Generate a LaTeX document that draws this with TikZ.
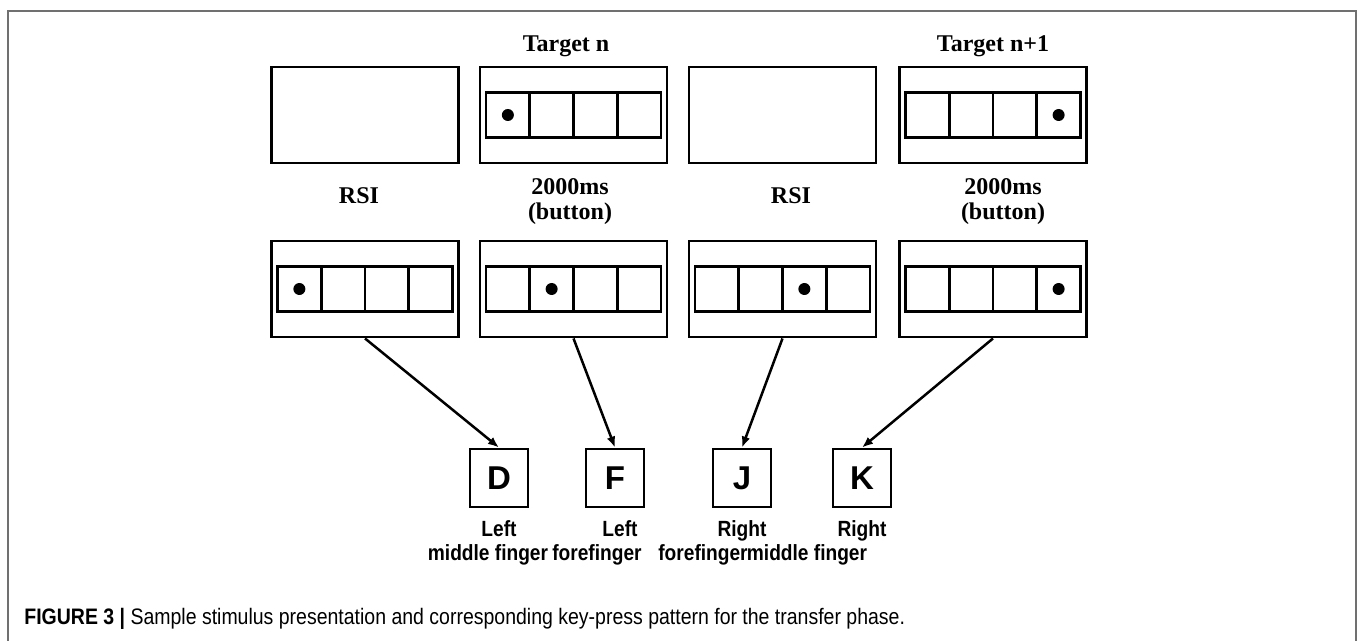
\documentclass[tikz,border=0pt]{standalone}
\usepackage{fontspec}
\setmainfont{Liberation Sans}
\newfontfamily\timesbf{Liberation Serif}
\newfontfamily\narrowsf[FakeStretch=0.87]{Liberation Sans}
\usetikzlibrary{arrows.meta}
\definecolor{framegray}{RGB}{112,112,112}

\begin{document}
\begin{tikzpicture}[x=0.5pt,y=-0.5pt,
    screen/.style={draw,line width=1.45pt,minimum width=93.5pt,minimum height=48pt,inner sep=0pt},
    cell/.style={draw,line width=1.35pt,minimum width=21.875pt,minimum height=22.5pt,inner sep=0pt},
    keybox/.style={draw,line width=1.45pt,minimum width=29pt,minimum height=29pt,inner sep=0pt,
      font=\fontsize{16.5}{18}\selectfont\bfseries},
    phase/.style={anchor=base,font=\timesbf\fontsize{12}{12.5}\selectfont\bfseries},
    finger/.style={anchor=base,font=\narrowsf\fontsize{11}{12}\selectfont\bfseries},
    press/.style={-{Latex[length=5.5pt,width=4.4pt]},line width=1.25pt}]
  \useasboundingbox (0,0) rectangle (1360,641);
  % Rahmen
  \draw[framegray,line width=1pt] (8,641) -- (8,11) -- (1356,11) -- (1356,641);

  % obere Reihe: Bildschirme
  \foreach \n/\cx in {1/365,2/573.5,3/782.5,4/993}
    \node[screen] (top\n) at (\cx,115) {};
  \foreach \i/\dx in {1/-65.625,2/-21.875,3/21.875,4/65.625} {
    \node[cell] (ta\i) at (573.5+\dx,115) {};
    \node[cell] (tb\i) at (993+\dx,115) {};
  }
  \fill (ta1.center) circle (6);
  \fill (tb4.center) circle (6);

  % untere Reihe: Bildschirme
  \foreach \n/\cx in {1/365,2/573.5,3/782.5,4/993}
    \node[screen] (bot\n) at (\cx,289) {};
  \foreach \n/\cx in {1/365,2/573.5,3/782.5,4/993}
    \foreach \i/\dx in {1/-65.625,2/-21.875,3/21.875,4/65.625}
      \node[cell] (c\n\i) at (\cx+\dx,289) {};
  \foreach \n in {1,...,4}
    \fill (c\n\n.center) circle (6);

  % Beschriftungen
  \node[phase] (lt2) at (566,52) {Target n};
  \node[phase] (lt4) at (993,52) {Target n+1};
  \node[phase] (lr1) at (359,204) {RSI};
  \node[phase,align=center] (lr2) at (570,220) {2000ms\\(button)};
  \node[phase] (lr3) at (791,204) {RSI};
  \node[phase,align=center] (lr4) at (1003,220) {2000ms\\(button)};

  % Tasten
  \node[keybox] (kD) at (499,478) {D};
  \node[keybox] (kF) at (615,478) {F};
  \node[keybox] (kJ) at (742,478) {J};
  \node[keybox] (kK) at (862,478) {K};

  \draw[press] (bot1.south) -- (kD.north);
  \draw[press] (bot2.south) -- (kF.north);
  \draw[press] (bot3.south) -- (kJ.north);
  \draw[press] (bot4.south) -- (kK.north);

  % Finger
  \node[finger] (fD1) at (499,536) {Left};
  \node[finger] (fD2) at (488,560) {middle finger};
  \node[finger] (fF1) at (620,536) {Left};
  \node[finger] (fF2) at (597,560) {forefinger};
  \node[finger] (fJ1) at (742,536) {Right};
  \node[finger] (fJ2) at (703,560) {forefinger};
  \node[finger] (fK1) at (862,536) {Right};
  \node[finger] (fK2) at (807,560) {middle finger};

  % Bildunterschrift
  \node[anchor=base west,inner sep=0pt,font=\narrowsf\fontsize{11.2}{12}\selectfont] (cap) at (24,624)
    {\textbf{FIGURE 3 |} Sample stimulus presentation and corresponding key-press pattern for the transfer phase.};
\end{tikzpicture}
\end{document}
